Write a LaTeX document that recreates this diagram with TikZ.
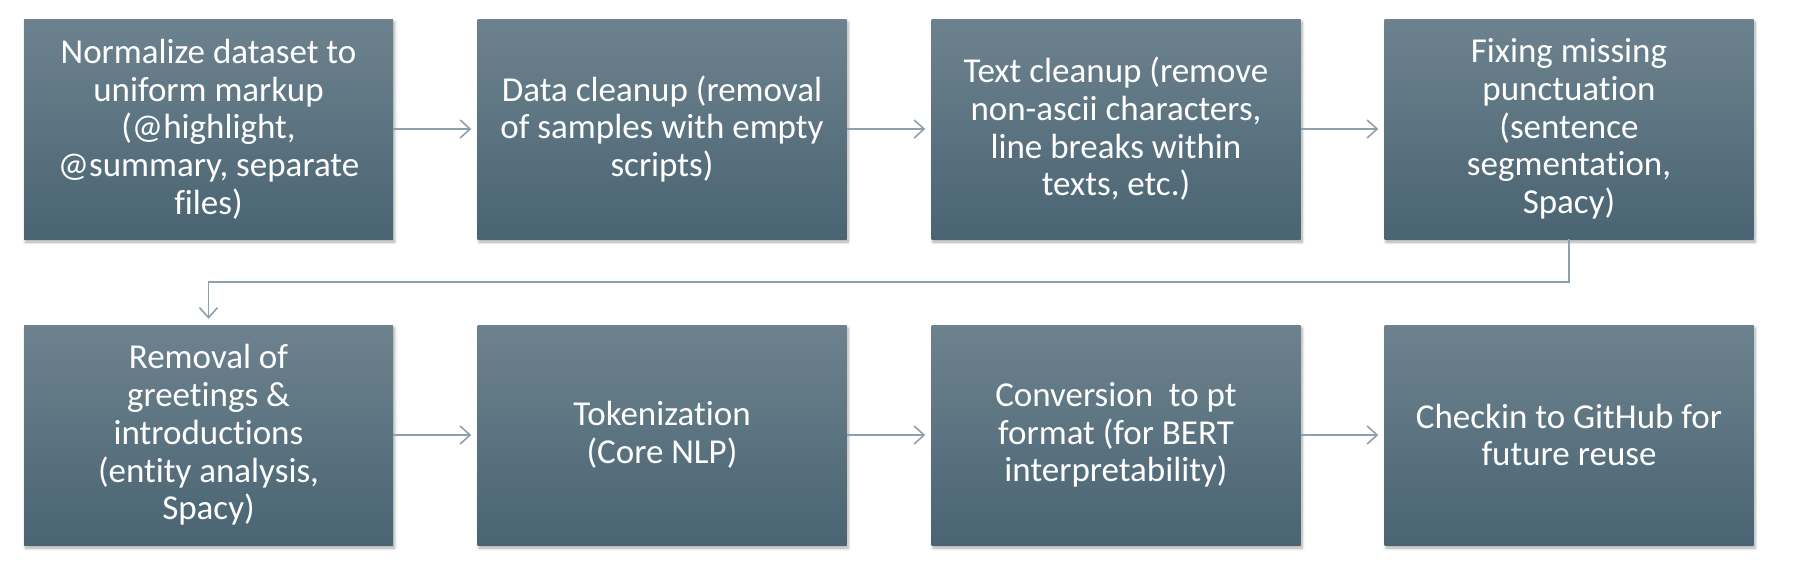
\documentclass[tikz,border=0pt]{standalone}
\usepackage{fontspec}
\setmainfont{Carlito}[Ligatures=NoCommon]
\usetikzlibrary{arrows.meta,shadows.blur,calc}
\definecolor{boxtop}{HTML}{6D828E}
\definecolor{boxbot}{HTML}{4A6473}
\definecolor{linec}{HTML}{8DA0AB}
\tikzset{
  stepbox/.style={rectangle, minimum width=369pt, minimum height=220pt, inner sep=0pt,
    top color=boxtop, bottom color=boxbot, draw=none, text=white, align=center,
    font=\fontsize{35}{37.7}\selectfont,
    blur shadow={shadow xshift=1.5pt, shadow yshift=-3pt, shadow blur steps=6, shadow opacity=35, shadow blur radius=3pt}},
  conn/.style={draw=linec, line width=1.8pt, -{Straight Barb[length=10pt,width=18pt,line width=1.6pt]}, shorten >=6pt}
}
\begin{document}
\begin{tikzpicture}[x=1pt,y=-1pt]
\useasboundingbox (0,0) rectangle (1793,581);
\node[stepbox] (a) at (208.5,129) {Normalize dataset to\\uniform markup\\(@highlight,\\@summary, separate\\files)};
\node[stepbox] (b) at (662,129) {Data cleanup (removal\\of samples with empty\\scripts)};
\node[stepbox] (c) at (1116,129) {Text cleanup (remove\\non-ascii characters,\\line breaks within\\texts, etc.)};
\node[stepbox] (d) at (1569,129) {Fixing missing\\punctuation\\(sentence\\segmentation,\\Spacy)};
\node[stepbox] (e) at (208.5,435) {Removal of\\greetings \&\\introductions\\(entity analysis,\\Spacy)};
\node[stepbox] (f) at (662,435) {Tokenization\\(Core NLP)};
\node[stepbox] (g) at (1116,435) {Conversion~ to pt\\format (for BERT\\interpretability)};
\node[stepbox] (h) at (1569,435) {Checkin to GitHub for\\future reuse};
\coordinate (m) at (0,282);
\draw[conn] (a) -- (b);
\draw[conn] (b) -- (c);
\draw[conn] (c) -- (d);
\draw[conn] (d.south) -- (d.south |- m) -- (e.north |- m) -- (e.north);
\draw[conn] (e) -- (f);
\draw[conn] (f) -- (g);
\draw[conn] (g) -- (h);
\end{tikzpicture}
\end{document}
